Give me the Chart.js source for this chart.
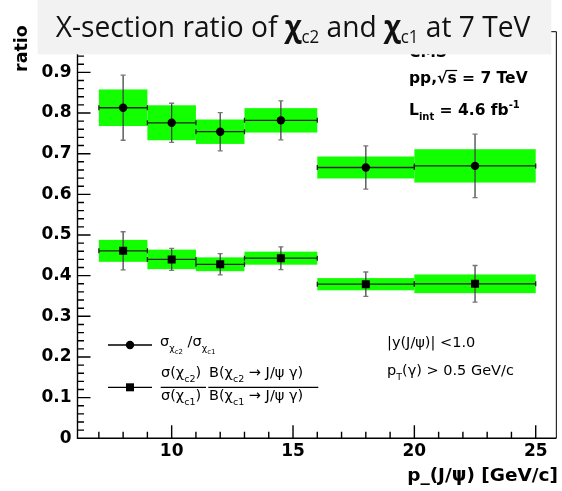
<!DOCTYPE html>
<html>
<head>
<meta charset="utf-8">
<script src="https://cdn.jsdelivr.net/npm/chart.js@4.4.1/dist/chart.umd.min.js"></script>
<style>
    body { margin: 0; background: #fff; }
    canvas { display: block; }
</style>
</head>
<body>
<canvas id="myChart" width="562" height="491"></canvas>
<script>
// pT(J/psi) bins
var binLow = [7, 9, 11, 13, 16, 20];
var binHigh = [9, 11, 13, 16, 20, 25];
var binCenter = [8, 10, 12, 14.5, 18, 22.5];

// sigma(chi_c2) / sigma(chi_c1)
var ratioSigma = [0.813, 0.776, 0.754, 0.782, 0.666, 0.670];
var ratioSigmaStat = [0.080, 0.048, 0.047, 0.048, 0.053, 0.078];
var ratioSigmaSyst = [0.045, 0.043, 0.030, 0.030, 0.027, 0.041];

// ratio times branching fractions
var ratioBR = [0.461, 0.440, 0.428, 0.443, 0.379, 0.380];
var ratioBRStat = [0.047, 0.027, 0.026, 0.028, 0.030, 0.045];
var ratioBRSyst = [0.027, 0.024, 0.017, 0.016, 0.015, 0.023];

var xTickLabels = [10, 15, 20, 25];
var yTickLabels = [0, 0.1, 0.2, 0.3, 0.4, 0.5, 0.6, 0.7, 0.8, 0.9];

var GREEN = "#12ff00";
var F = '14.5px "DejaVu Sans"';
var FS = '9.5px "DejaVu Sans"';
var FSS = '7px "DejaVu Sans"';
var B = 'bold 15.5px "DejaVu Sans"';
var BS = 'bold 10px "DejaVu Sans"';

function toPoints(ys) {
    var pts = [];
    for (var i = 0; i < ys.length; i++) {
        pts.push({ x: binCenter[i], y: ys[i] });
    }
    return pts;
}

// draws a run of text pieces: [text, font, dy]
function richText(ctx, x, y, parts) {
    for (var i = 0; i < parts.length; i++) {
        ctx.font = parts[i][1];
        ctx.fillText(parts[i][0], x, y + (parts[i][2] || 0));
        x += ctx.measureText(parts[i][0]).width;
    }
    return x;
}

function richWidth(ctx, parts) {
    var w = 0;
    for (var i = 0; i < parts.length; i++) {
        ctx.font = parts[i][1];
        w += ctx.measureText(parts[i][0]).width;
    }
    return w;
}

function drawSyst(ctx, xs, ys, vals, syst) {
    ctx.fillStyle = GREEN;
    for (var i = 0; i < vals.length; i++) {
        var x0 = xs.getPixelForValue(binLow[i]);
        var x1 = xs.getPixelForValue(binHigh[i]);
        var y0 = ys.getPixelForValue(vals[i] + syst[i]);
        var y1 = ys.getPixelForValue(vals[i] - syst[i]);
        ctx.fillRect(x0, y0, x1 - x0, y1 - y0);
    }
}

function drawStat(ctx, xs, ys, vals, stat) {
    ctx.lineWidth = 1.3;
    for (var i = 0; i < vals.length; i++) {
        var x0 = xs.getPixelForValue(binLow[i]);
        var x1 = xs.getPixelForValue(binHigh[i]);
        var xc = xs.getPixelForValue(binCenter[i]);
        var yc = ys.getPixelForValue(vals[i]);
        var yt = ys.getPixelForValue(vals[i] + stat[i]);
        var yb = ys.getPixelForValue(vals[i] - stat[i]);
        ctx.strokeStyle = "#222";
        ctx.beginPath();
        ctx.moveTo(x0, yc); ctx.lineTo(x1, yc);
        ctx.moveTo(x0, yc - 2.5); ctx.lineTo(x0, yc + 2.5);
        ctx.moveTo(x1, yc - 2.5); ctx.lineTo(x1, yc + 2.5);
        ctx.stroke();
        ctx.strokeStyle = "#444";
        ctx.beginPath();
        ctx.moveTo(xc, yt); ctx.lineTo(xc, yb);
        ctx.stroke();
        ctx.strokeStyle = "#777";
        ctx.beginPath();
        ctx.moveTo(xc - 2.5, yt); ctx.lineTo(xc + 2.5, yt);
        ctx.moveTo(xc - 2.5, yb); ctx.lineTo(xc + 2.5, yb);
        ctx.stroke();
    }
}

function drawFrame(ctx, area, xs, ys) {
    ctx.strokeStyle = "#000";
    ctx.lineWidth = 1;
    ctx.beginPath();
    ctx.moveTo(area.left, area.top); ctx.lineTo(area.right, area.top);
    ctx.lineTo(area.right, area.bottom);
    ctx.stroke();
    ctx.lineWidth = 1.4;
    ctx.beginPath();
    ctx.moveTo(area.left, area.top); ctx.lineTo(area.left, area.bottom);
    ctx.lineTo(area.right, area.bottom);
    // y ticks every 0.02, long every 0.1
    for (var i = 0; i <= 50; i++) {
        var py = ys.getPixelForValue(i * 0.02);
        ctx.moveTo(area.left, py);
        ctx.lineTo(area.left + (i % 5 === 0 ? 13 : 6.5), py);
    }
    // x ticks every 1 GeV, long every 5
    for (var v = 7; v <= 25; v++) {
        var px = xs.getPixelForValue(v);
        ctx.moveTo(px, area.bottom);
        ctx.lineTo(px, area.bottom - (v % 5 === 0 ? 13 : 6.5));
    }
    ctx.stroke();
}

function drawTexts(ctx, area) {
    ctx.fillStyle = "#000";
    ctx.textAlign = "left";
    ctx.textBaseline = "alphabetic";

    // axis titles
    ctx.save();
    ctx.translate(27, 72);
    ctx.rotate(-Math.PI / 2);
    ctx.font = 'bold 17.5px "DejaVu Sans"';
    ctx.fillText("ratio", 0, 0);
    ctx.restore();
    ctx.font = 'bold 18.5px "DejaVu Sans"';
    ctx.textAlign = "right";
    ctx.fillText("p_(J/\u03c8) [GeV/c]", 558, 481);
    ctx.textAlign = "left";

    // experiment labels
    ctx.font = B;
    ctx.fillText("CMS", 409, 57);
    var x = richText(ctx, 409, 83.3, [["pp,\u221a", B]]);
    ctx.font = B;
    var sw = ctx.measureText("s").width;
    richText(ctx, x, 83.3, [["s = 7 TeV", B]]);
    ctx.lineWidth = 1.2;
    ctx.strokeStyle = "#000";
    ctx.beginPath();
    ctx.moveTo(x - 1, 70.5); ctx.lineTo(x + sw + 0.5, 70.5);
    ctx.stroke();
    x = richText(ctx, 409, 115, [["L", B], ["int", BS, 5], [" = 4.6 fb", B]]);
    richText(ctx, x, 115, [["-1", BS, -7]]);

    // cuts
    richText(ctx, 387, 347, [["|y(J/\u03c8)| <1.0", F]]);
    richText(ctx, 387, 375, [["p", F], ["T", FS, 5], ["(\u03b3) > 0.5 GeV/c", F]]);

    // legend
    ctx.lineWidth = 1.3;
    ctx.beginPath();
    ctx.moveTo(108, 345); ctx.lineTo(152, 345);
    ctx.moveTo(108, 387.3); ctx.lineTo(152, 387.3);
    ctx.stroke();
    ctx.beginPath();
    ctx.arc(130, 345, 4.2, 0, Math.PI * 2);
    ctx.fill();
    ctx.fillRect(126, 383.3, 8, 8);

    richText(ctx, 160, 345.7, [
        ["\u03c3", F], ["\u03c7", FS, 5], ["c2", FSS, 8],
        [" /\u03c3", F], ["\u03c7", FS, 5], ["c1", FSS, 8]
    ]);
    richText(ctx, 161, 377, [["\u03c3(\u03c7", F], ["c2", FS, 5], [")", F]]);
    richText(ctx, 161, 400, [["\u03c3(\u03c7", F], ["c1", FS, 5], [")", F]]);
    richText(ctx, 209, 377, [["B(\u03c7", F], ["c2", FS, 5], [" \u2192 J/\u03c8 \u03b3)", F]]);
    richText(ctx, 209, 400, [["B(\u03c7", F], ["c1", FS, 5], [" \u2192 J/\u03c8 \u03b3)", F]]);
    ctx.lineWidth = 1.3;
    ctx.beginPath();
    ctx.moveTo(160.7, 387.3); ctx.lineTo(206, 387.3);
    ctx.moveTo(208.3, 387.3); ctx.lineTo(318.3, 387.3);
    ctx.stroke();
}

function drawHeader(ctx) {
    ctx.fillStyle = "#f2f2f2";
    ctx.fillRect(37.7, 0, 551.3 - 37.7, 54.3);
    var T = '30px "Open Sans"';
    var TB = 'bold 30px "Open Sans"';
    var TS = '18px "Open Sans"';
    var parts = [
        ["X-section ratio of ", T], ["\u03c7", TB], ["c2", TS, 6],
        [" and ", T], ["\u03c7", TB], ["c1", TS, 6], [" at 7 TeV", T]
    ];
    var k = (530.3 - 55.7) / richWidth(ctx, parts);
    ctx.save();
    ctx.fillStyle = "#111";
    ctx.textAlign = "left";
    ctx.textBaseline = "alphabetic";
    ctx.translate(55.7, 36.7);
    ctx.scale(k, 1);
    richText(ctx, 0, 0, parts);
    ctx.restore();
}

var decorations = {
    id: "decorations",
    beforeDatasetsDraw: function (chart) {
        var ctx = chart.ctx;
        var xs = chart.scales.x, ys = chart.scales.y;
        ctx.save();
        drawSyst(ctx, xs, ys, ratioSigma, ratioSigmaSyst);
        drawSyst(ctx, xs, ys, ratioBR, ratioBRSyst);
        drawStat(ctx, xs, ys, ratioSigma, ratioSigmaStat);
        drawStat(ctx, xs, ys, ratioBR, ratioBRStat);
        ctx.restore();
    },
    afterDraw: function (chart) {
        var ctx = chart.ctx;
        ctx.save();
        drawFrame(ctx, chart.chartArea, chart.scales.x, chart.scales.y);
        drawTexts(ctx, chart.chartArea);
        drawHeader(ctx);
        ctx.restore();
    }
};

var tickFont = { family: "DejaVu Sans", size: 17, weight: "bold" };

var config = {
    type: "scatter",
    data: {
        datasets: [
            {
                label: "sigma ratio",
                data: toPoints(ratioSigma),
                pointStyle: "circle",
                pointRadius: 4.2,
                borderWidth: 0,
                backgroundColor: "#000",
            },
            {
                label: "ratio x BR",
                data: toPoints(ratioBR),
                pointStyle: "rect",
                pointRadius: 5.66,
                borderWidth: 0,
                backgroundColor: "#000",
            },
        ],
    },
    options: {
        responsive: false,
        animation: false,
        events: [],
        layout: { padding: { left: 0, top: 31.7, right: 3.5, bottom: 0 } },
        plugins: { legend: { display: false }, tooltip: { enabled: false } },
        scales: {
            x: {
                type: "linear",
                min: 6.12,
                max: 25.85,
                afterBuildTicks: function (scale) {
                    scale.ticks = xTickLabels.map(function (v) { return { value: v }; });
                },
                afterFit: function (scale) { scale.height = 52.7; },
                grid: { display: false, drawTicks: false },
                border: { display: false },
                ticks: { font: tickFont, color: "#000", padding: 3, autoSkip: false, maxRotation: 0 },
            },
            y: {
                type: "linear",
                min: 0,
                max: 1.0,
                afterBuildTicks: function (scale) {
                    scale.ticks = yTickLabels.map(function (v) { return { value: v }; });
                },
                afterFit: function (scale) { scale.width = 77.5; },
                grid: { display: false, drawTicks: false },
                border: { display: false },
                ticks: {
                    font: tickFont,
                    color: "#000",
                    padding: 6,
                    callback: function (value) { return value === 0 ? "0" : value.toFixed(1); },
                },
            },
        },
    },
    plugins: [decorations],
};

var ctx = document.getElementById("myChart").getContext("2d");
var myChart = new Chart(ctx, config);
</script>
</body>
</html>
